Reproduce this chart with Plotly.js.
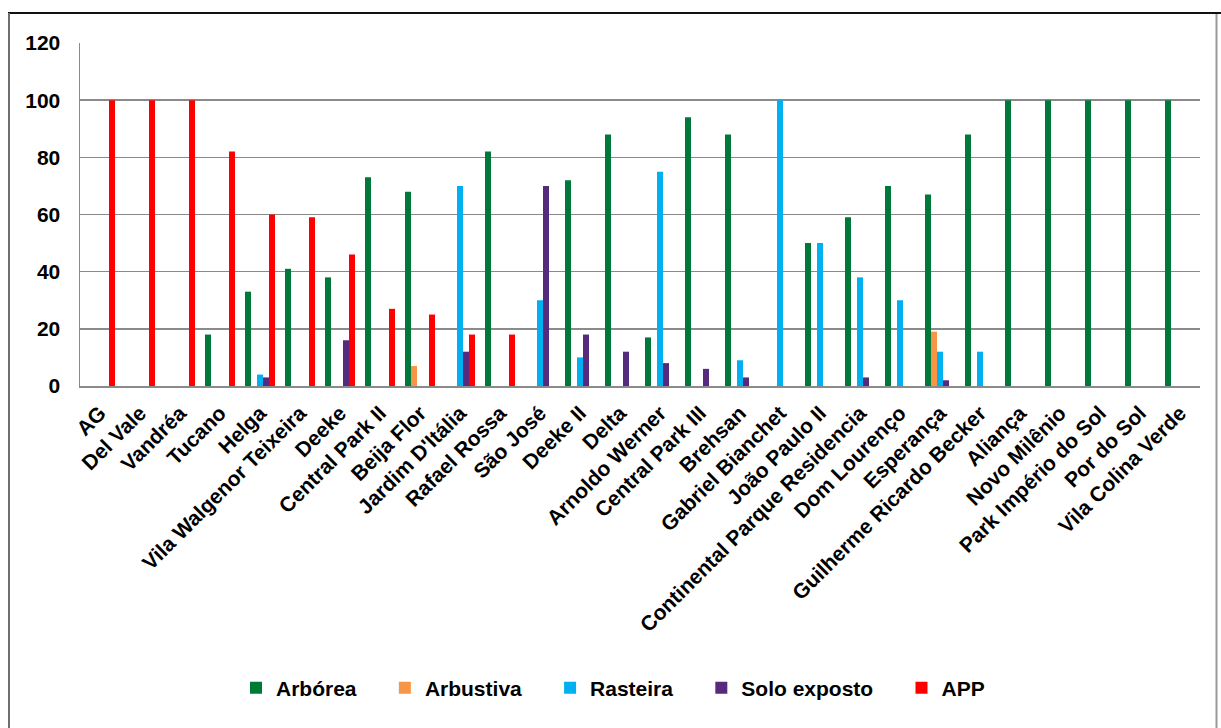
<!DOCTYPE html>
<html>
<head>
<meta charset="utf-8">
<script src="https://cdn.plot.ly/plotly-3.0.1.min.js"></script>
<style>
  html, body { margin: 0; padding: 0; background: #ffffff; }
  #chart { width: 1221px; height: 728px; }
</style>
</head>
<body>
<div id="chart"></div>
<script>
// Neighbourhoods (bairros) along the x axis
const categories = [
  "AG", "Del Vale", "Vandréa", "Tucano", "Helga", "Vila Walgenor Teixeira",
  "Deeke", "Central Park II", "Beija Flor", "Jardim D'Itália", "Rafael Rossa",
  "São José", "Deeke II", "Delta", "Arnoldo Werner", "Central Park III",
  "Brehsan", "Gabriel Bianchet", "João Paulo II", "Continental Parque Residencia",
  "Dom Lourenço", "Esperança", "Guilherme Ricardo Becker", "Aliança",
  "Novo Milênio", "Park Império do Sol", "Por do Sol", "Vila Colina Verde"
];

// Percentage of each cover class per neighbourhood
const arborea = [null, null, null, 18, 33, 41, 38, 73, 68, null, 82, null, 72, 88, 17, 94, 88, null, 50, 59, 70, 67, 88, 100, 100, 100, 100, 100];
const arbustiva = [null, null, null, null, null, null, null, null, 7, null, null, null, null, null, null, null, null, null, null, null, null, 19, null, null, null, null, null, null];
const rasteira = [null, null, null, null, 4, null, null, null, null, 70, null, 30, 10, null, 75, null, 9, 100, 50, 38, 30, 12, 12, null, null, null, null, null];
const soloExposto = [null, null, null, null, 3, null, 16, null, null, 12, null, 70, 18, 12, 8, 6, 3, null, null, 3, null, 2, null, null, null, null, null, null];
const app = [100, 100, 100, 82, 60, 59, 46, 27, 25, 18, 18, null, null, null, null, null, null, null, null, null, null, null, null, null, null, null, null, null];

const seriesNames = ["Arbórea", "Arbustiva", "Rasteira", "Solo exposto", "APP"];
const seriesValues = [arborea, arbustiva, rasteira, soloExposto, app];
const seriesColors = ["#00783A", "#F79646", "#00B0F0", "#562A7C", "#FF0000"];

const yTicks = [0, 20, 40, 60, 80, 100, 120];

const FONT = "Liberation Sans, Arial, Helvetica, sans-serif";
const FS = 21;
const PAD = "\u00a0\u00a0\u00a0\u00a0";

const traces = seriesNames.map((name, k) => ({
  type: "bar",
  name: name + PAD,
  x: categories,
  y: seriesValues[k],
  marker: { color: seriesColors[k], line: { width: 0 } },
  hoverinfo: "skip"
}));

// Plot-area geometry in pixels, used to place the frame lines
const W = 1221, H = 728;
const M = { l: 80, r: 21, t: 43, b: 342 };
const pw = W - M.l - M.r, ph = H - M.t - M.b;
const px = v => (v - M.l) / pw;
const py = v => (H - M.b - v) / ph;

const frame = [
  { x0: px(8), x1: px(1221), y0: py(13), y1: py(13), color: "#111111", width: 2 },
  { x0: px(9), x1: px(9), y0: py(13), y1: py(728), color: "#6e6e6e", width: 2 },
  { x0: px(1216.5), x1: px(1216.5), y0: py(14), y1: py(728), color: "#9a9a9a", width: 2 }
].map(s => ({
  type: "line", xref: "paper", yref: "paper",
  x0: s.x0, x1: s.x1, y0: s.y0, y1: s.y1,
  line: { color: s.color, width: s.width }
}));

const tickFont = { family: FONT, size: FS, color: "#000000", weight: "bold" };

const layout = {
  width: W,
  height: H,
  margin: M,
  paper_bgcolor: "#ffffff",
  plot_bgcolor: "#ffffff",
  barmode: "group",
  bargap: 0.25,
  bargroupgap: 0,
  font: { family: FONT, color: "#000000", size: FS, weight: "bold" },
  xaxis: {
    type: "category",
    tickangle: -45,
    ticks: "",
    ticklabelstandoff: 5,
    showgrid: false,
    showline: true,
    linecolor: "#8a8a8a",
    linewidth: 1.5,
    tickfont: tickFont,
    automargin: false
  },
  yaxis: {
    range: [0, 120],
    tickvals: yTicks,
    ticktext: yTicks.map(String),
    ticks: "",
    ticklabelstandoff: 14,
    showline: true,
    linecolor: "#8a8a8a",
    linewidth: 1.5,
    showgrid: true,
    gridcolor: "#8a8a8a",
    gridwidth: 1.5,
    zeroline: false,
    tickfont: tickFont,
    automargin: false
  },
  legend: {
    orientation: "h",
    x: px(236),
    xanchor: "left",
    y: py(688),
    yanchor: "middle",
    font: tickFont,
    bgcolor: "rgba(0,0,0,0)"
  },
  shapes: frame,
  showlegend: true
};

Plotly.newPlot("chart", traces, layout, { staticPlot: true, displayModeBar: false });
</script>
</body>
</html>
